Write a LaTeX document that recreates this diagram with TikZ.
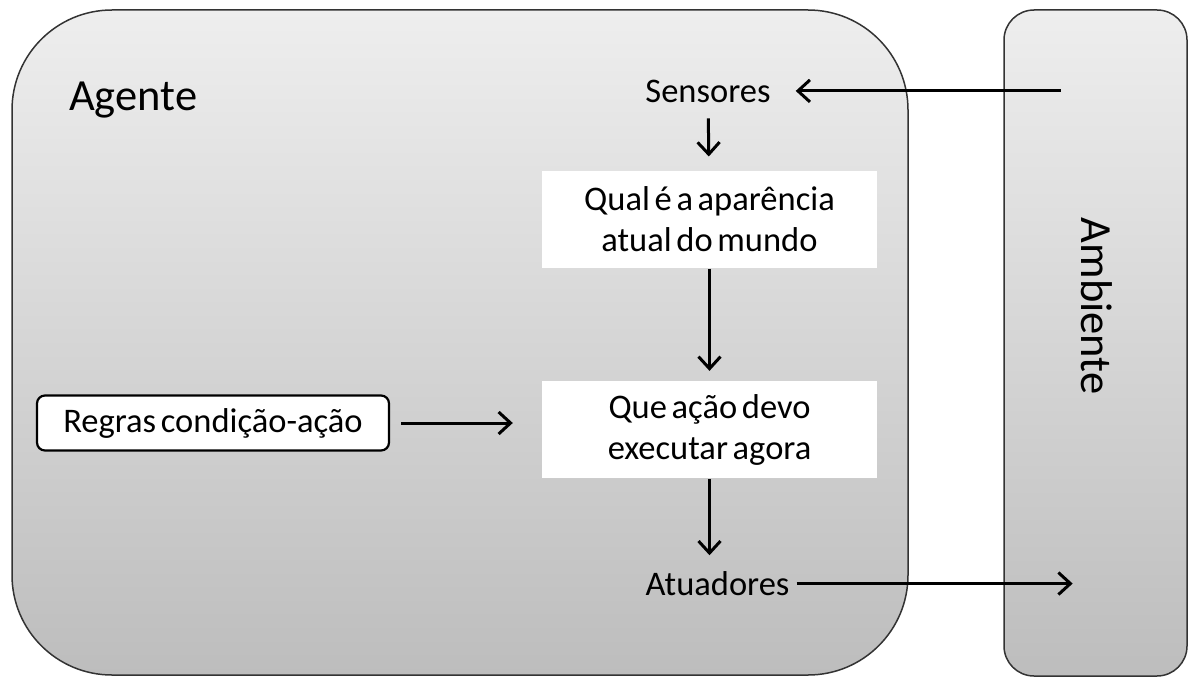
\documentclass[tikz,border=0pt]{standalone}
\usepackage{fontspec}
\setmainfont{Carlito}[WordSpace=0.6]
\usetikzlibrary{arrows.meta,positioning}

\definecolor{paneltop}{RGB}{238,238,238}
\definecolor{panelbot}{RGB}{189,189,189}

\begin{document}
\begin{tikzpicture}[
            x=1pt, y=-1pt,
            panel/.style={
                draw=black!80,
                line width=1.5pt,
                top color=paneltop,
                bottom color=panelbot
            },
            title/.style={
                font=\fontsize{44.5}{50}\selectfont,
                inner sep=0pt
            },
            plain/.style={
                font=\fontsize{34.5}{41}\selectfont,
                inner sep=0pt
            },
            stepbox/.style={
                fill=white,
                minimum width=335pt,
                minimum height=97pt,
                align=center,
                font=\fontsize{34.5}{41}\selectfont
            },
            rulebox/.style={
                draw,
                fill=white,
                line width=2.2pt,
                rounded corners=8pt,
                minimum width=352pt,
                minimum height=55pt,
                font=\fontsize{34.5}{41}\selectfont
            },
            flow/.style={
                line width=3pt,
                -{Straight Barb[length=12pt,width=22pt]}
            }
        ]

            \useasboundingbox (0,0) rectangle (1188,677);

            % --- Agent and environment panels ---
            \node[panel, rounded corners=100pt, minimum width=896pt, minimum height=665pt] (agente) at (460,342.5) {};
            \node[panel, rounded corners=30pt, minimum width=183pt, minimum height=666pt] (ambiente) at (1095.5,343) {};

            \node[title, anchor=base west] (agtitle) at (69,110) {Agente};
            \node[title, rotate=-90] (ambtitle) at (1097,306) {Ambiente};

            % --- Agent pipeline ---
            \node[plain, anchor=base] (sens) at (708,102) {Sensores};
            \node[stepbox, below=68pt of sens, xshift=1.5pt] (mundo) {Qual é a aparência\\atual do mundo};
            \node[stepbox, below=113pt of mundo] (acao) {Que ação devo\\executar agora};
            \node[plain, below=93pt of acao, xshift=8pt] (atu) {Atuadores};

            \node[rulebox] (regras) at (213,423) {Regras condição-ação};

            % --- Free ends on the environment side ---
            \path (sens.east) ++(290,0) coordinate (envin);
            \path (atu.east) ++(283,0) coordinate (envout);

            % --- Connectors ---
            \draw[flow, shorten >=25pt] (envin) -- (sens.east);
            \draw[flow, shorten <=16pt, shorten >=14pt] (sens) -- (mundo);
            \draw[flow, shorten <=1pt, shorten >=10pt] (mundo) -- (acao);
            \draw[flow, shorten <=1pt, shorten >=16pt] (acao.south) -- (acao.south |- atu.north);
            \draw[flow, shorten <=11pt, shorten >=29pt] (regras.east) -- (regras.east -| acao.west);
            \draw[flow, shorten <=7pt] (atu.east) -- (envout);
        \end{tikzpicture}
\end{document}
